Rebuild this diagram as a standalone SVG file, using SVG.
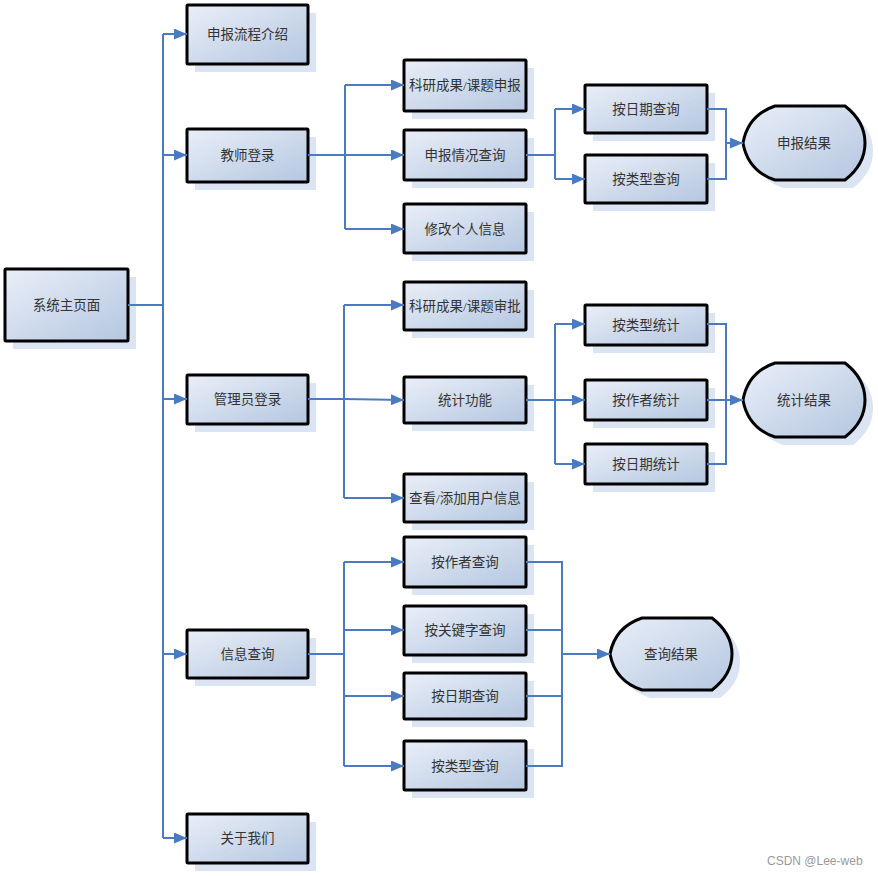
<svg xmlns="http://www.w3.org/2000/svg" width="878" height="876" viewBox="0 0 878 876">
<defs>
<linearGradient id="g" x1="0" y1="0" x2="1" y2="1">
<stop offset="0" stop-color="#eaeff8"/>
<stop offset="1" stop-color="#b4c6e0"/>
</linearGradient>
<marker id="a" viewBox="0 0 13 11" refX="13" refY="5.5" markerWidth="13" markerHeight="11" markerUnits="userSpaceOnUse" orient="auto">
<path d="M0,0 L13,5.5 L0,11 Z" fill="#4a7bc0"/>
</marker>
<style>
.sh{fill:#dbe4f2}
.bx{fill:url(#g);stroke:#000;stroke-width:3}
.t{font-family:"Liberation Serif","Noto Sans CJK SC",serif;font-size:13.5px;fill:#333;text-anchor:middle;dominant-baseline:central}
.c{fill:none;stroke:#4a7bc0;stroke-width:2}
.ar{marker-end:url(#a)}
.wm{font-family:"Liberation Sans",sans-serif;font-size:12px;fill:#999}
</style>
</defs>
<rect width="878" height="876" fill="#fff"/>
<g id="n-main"><rect class="sh" x="13" y="277" width="123" height="72"/><rect class="bx" x="5" y="269" width="123" height="72" rx="1"/><text class="t" x="66.5" y="305">系统主页面</text></g>
<g id="n-intro"><rect class="sh" x="195" y="13" width="121" height="59"/><rect class="bx" x="187" y="5" width="121" height="59" rx="1"/><text class="t" x="247.5" y="34">申报流程介绍</text></g>
<g id="n-teacher"><rect class="sh" x="195" y="137" width="121" height="53"/><rect class="bx" x="187" y="129" width="121" height="53" rx="1"/><text class="t" x="247.5" y="155">教师登录</text></g>
<g id="n-admin"><rect class="sh" x="195" y="383" width="121" height="49"/><rect class="bx" x="187" y="375" width="121" height="49" rx="1"/><text class="t" x="247.5" y="399">管理员登录</text></g>
<g id="n-info"><rect class="sh" x="195" y="638" width="121" height="48"/><rect class="bx" x="187" y="630" width="121" height="48" rx="1"/><text class="t" x="247.5" y="654">信息查询</text></g>
<g id="n-about"><rect class="sh" x="195" y="822" width="121" height="49"/><rect class="bx" x="187" y="814" width="121" height="49" rx="1"/><text class="t" x="247.5" y="838">关于我们</text></g>
<g id="n-t1"><rect class="sh" x="412" y="68" width="122" height="51"/><rect class="bx" x="404" y="60" width="122" height="51" rx="1"/><text class="t" x="465" y="85">科研成果/课题申报</text></g>
<g id="n-t2"><rect class="sh" x="412" y="138" width="122" height="50"/><rect class="bx" x="404" y="130" width="122" height="50" rx="1"/><text class="t" x="465" y="155">申报情况查询</text></g>
<g id="n-t3"><rect class="sh" x="412" y="212" width="122" height="49"/><rect class="bx" x="404" y="204" width="122" height="49" rx="1"/><text class="t" x="465" y="229">修改个人信息</text></g>
<g id="n-tq1"><rect class="sh" x="593" y="93" width="122" height="48"/><rect class="bx" x="585" y="85" width="122" height="48" rx="1"/><text class="t" x="646" y="109">按日期查询</text></g>
<g id="n-tq2"><rect class="sh" x="593" y="163" width="122" height="48"/><rect class="bx" x="585" y="155" width="122" height="48" rx="1"/><text class="t" x="646" y="179">按类型查询</text></g>
<g id="n-r1"><path class="sh" d="M783,114 H853 C866,124 873,136 873,151 C873,166 866,178 853,188 H783 Q756,179 751,151 Q756,123 783,114 Z"/><path class="bx" d="M775,106 H845 C858,116 865,128 865,143 C865,158 858,170 845,180 H775 Q748,171 743,143 Q748,115 775,106 Z"/><text class="t" x="804" y="143">申报结果</text></g>
<g id="n-a1"><rect class="sh" x="412" y="290" width="122" height="48"/><rect class="bx" x="404" y="282" width="122" height="48" rx="1"/><text class="t" x="465" y="306">科研成果/课题审批</text></g>
<g id="n-a2"><rect class="sh" x="412" y="385" width="122" height="46"/><rect class="bx" x="404" y="377" width="122" height="46" rx="1"/><text class="t" x="465" y="400">统计功能</text></g>
<g id="n-a3"><rect class="sh" x="412" y="482" width="122" height="48"/><rect class="bx" x="404" y="474" width="122" height="48" rx="1"/><text class="t" x="465" y="498">查看/添加用户信息</text></g>
<g id="n-s1"><rect class="sh" x="593" y="313" width="122" height="40"/><rect class="bx" x="585" y="305" width="122" height="40" rx="1"/><text class="t" x="646" y="325">按类型统计</text></g>
<g id="n-s2"><rect class="sh" x="593" y="388" width="122" height="40"/><rect class="bx" x="585" y="380" width="122" height="40" rx="1"/><text class="t" x="646" y="400">按作者统计</text></g>
<g id="n-s3"><rect class="sh" x="593" y="452" width="122" height="40"/><rect class="bx" x="585" y="444" width="122" height="40" rx="1"/><text class="t" x="646" y="464">按日期统计</text></g>
<g id="n-r2"><path class="sh" d="M783,371 H853 C866,381 873,393 873,408 C873,423 866,435 853,445 H783 Q756,436 751,408 Q756,380 783,371 Z"/><path class="bx" d="M775,363 H845 C858,373 865,385 865,400 C865,415 858,427 845,437 H775 Q748,428 743,400 Q748,372 775,363 Z"/><text class="t" x="804" y="400">统计结果</text></g>
<g id="n-i1"><rect class="sh" x="412" y="545" width="122" height="50"/><rect class="bx" x="404" y="537" width="122" height="50" rx="1"/><text class="t" x="465" y="562">按作者查询</text></g>
<g id="n-i2"><rect class="sh" x="412" y="614" width="122" height="49"/><rect class="bx" x="404" y="606" width="122" height="49" rx="1"/><text class="t" x="465" y="630">按关键字查询</text></g>
<g id="n-i3"><rect class="sh" x="412" y="681" width="122" height="46"/><rect class="bx" x="404" y="673" width="122" height="46" rx="1"/><text class="t" x="465" y="696">按日期查询</text></g>
<g id="n-i4"><rect class="sh" x="412" y="749" width="122" height="49"/><rect class="bx" x="404" y="741" width="122" height="49" rx="1"/><text class="t" x="465" y="766">按类型查询</text></g>
<g id="n-r3"><path class="sh" d="M650,626 H720 C733,636 740,647 740,662 C740,677 733,688 720,698 H650 Q623,689 618,662 Q623,635 650,626 Z"/><path class="bx" d="M642,618 H712 C725,628 732,639 732,654 C732,669 725,680 712,690 H642 Q615,681 610,654 Q615,627 642,618 Z"/><text class="t" x="671" y="654">查询结果</text></g>
<g id="connectors">
<path class="c" d="M128,305 H163 M163,34 V838"/>
<path class="c ar" d="M163,34 H187"/>
<path class="c ar" d="M163,155 H187"/>
<path class="c ar" d="M163,399 H187"/>
<path class="c ar" d="M163,654 H187"/>
<path class="c ar" d="M163,838 H187"/>
<path class="c" d="M308,155 H345 M345,85 V229"/>
<path class="c ar" d="M345,85 H404"/>
<path class="c ar" d="M345,155 H404"/>
<path class="c ar" d="M345,229 H404"/>
<path class="c" d="M526,155 H555 M555,109 V179"/>
<path class="c ar" d="M555,109 H585"/>
<path class="c ar" d="M555,179 H585"/>
<path class="c" d="M707,109 H726 V179 H707"/>
<path class="c ar" d="M726,143 H743"/>
<path class="c" d="M308,399 H344 M344,305 V498"/>
<path class="c ar" d="M344,305 H404"/>
<path class="c ar" d="M344,399 L404,400"/>
<path class="c ar" d="M344,498 H404"/>
<path class="c" d="M526,400 H555 M555,324 V464"/>
<path class="c ar" d="M555,324 H585"/>
<path class="c ar" d="M555,400 H585"/>
<path class="c ar" d="M555,464 H585"/>
<path class="c" d="M707,324 H726 V464 H707"/>
<path class="c ar" d="M707,400 H743"/>
<path class="c" d="M308,654 H344 M344,562 V766"/>
<path class="c ar" d="M344,562 H404"/>
<path class="c ar" d="M344,630 H404"/>
<path class="c ar" d="M344,696 H404"/>
<path class="c ar" d="M344,766 H404"/>
<path class="c" d="M526,562 H562 V766 H526 M526,630 H562 M526,696 H562"/>
<path class="c ar" d="M562,654 H610"/>
</g>
<text class="wm" x="767" y="865">CSDN @Lee-web</text>
</svg>
